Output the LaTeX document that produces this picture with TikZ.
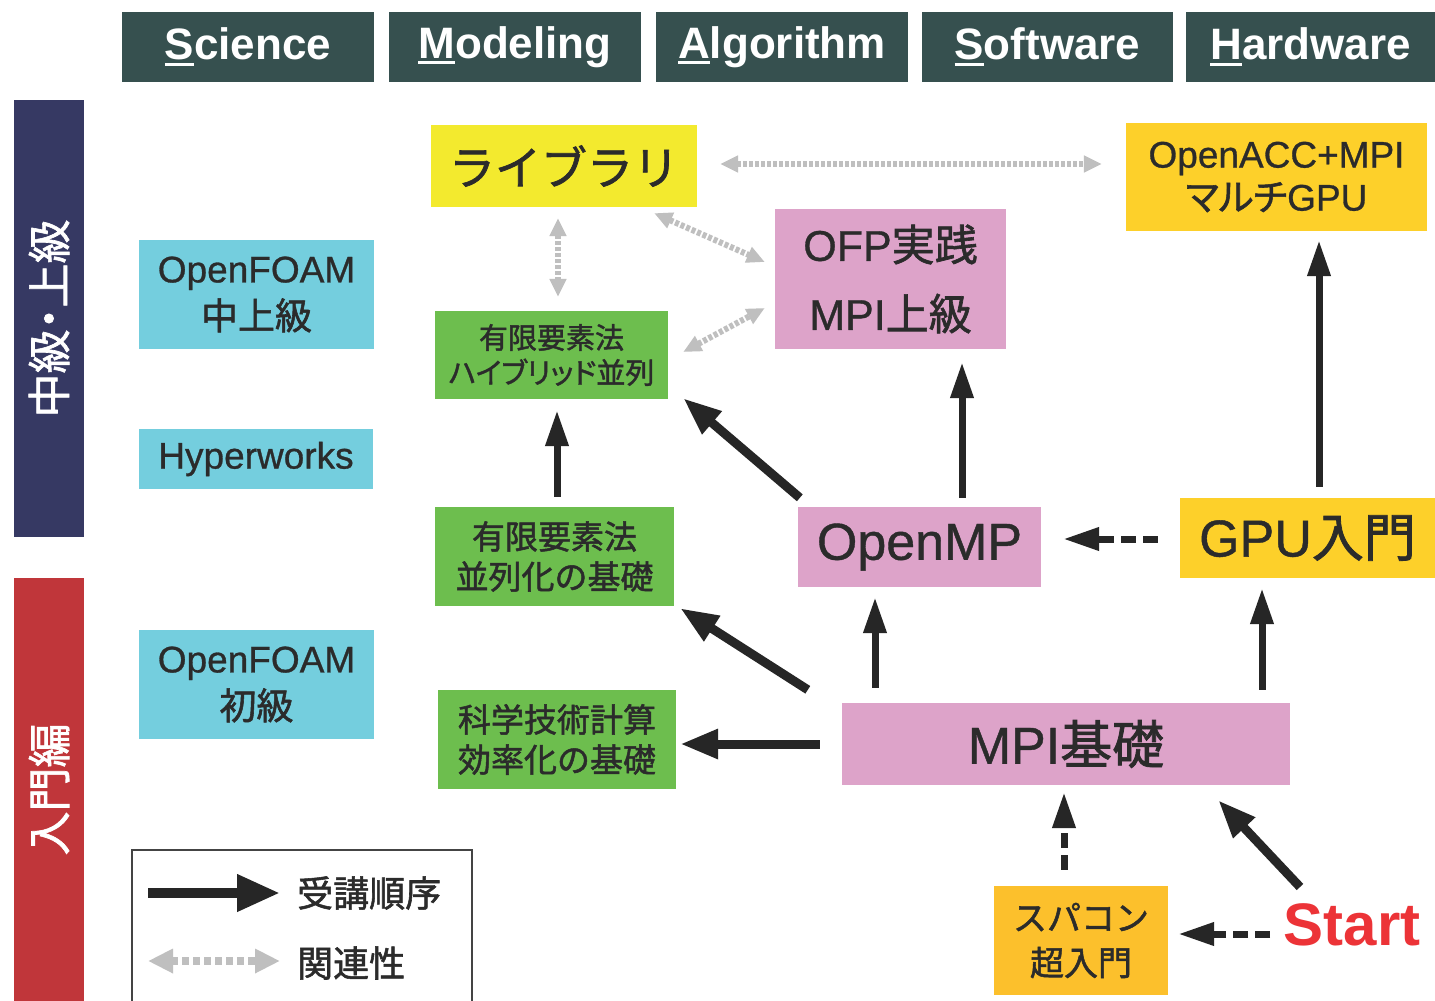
\documentclass[tikz,border=0pt]{standalone}
\usepackage{fontspec}
\setmainfont{Liberation Sans}[UprightFeatures={FakeBold=0.8}]
\newfontfamily\jp{Noto Sans CJK JP}[UprightFeatures={FakeBold=1.5}]
\newfontfamily\jpp{Noto Sans CJK JP}[UprightFeatures={FakeBold=1.5},RawFeature=+palt]
\usetikzlibrary{arrows.meta}
\definecolor{hdrc}{HTML}{36504F}
\definecolor{navyc}{HTML}{363963}
\definecolor{redbar}{HTML}{C0363A}
\definecolor{yelc}{HTML}{F3EA2E}
\definecolor{goldc}{HTML}{FDD02A}
\definecolor{orgc}{HTML}{FCC02C}
\definecolor{pinkc}{HTML}{DDA3C9}
\definecolor{cyanc}{HTML}{74CEDE}
\definecolor{grnc}{HTML}{6DBE4E}
\definecolor{txtc}{HTML}{2B2B2B}
\definecolor{arrc}{HTML}{262626}
\definecolor{startc}{HTML}{EC3337}
\definecolor{grayc}{HTML}{BFBFBF}
\definecolor{legc}{HTML}{444444}
\newcommand\firstul[1]{\setbox0\hbox{#1}\rlap{\rule[-6pt]{\wd0}{3pt}}\box0}
\newcommand\fs[2]{\fontsize{#1}{#2}\selectfont}
\begin{document}
\begin{tikzpicture}[x=1pt,y=-1pt,
  box/.style={rectangle, inner sep=0pt, align=center, text=txtc},
  hdr/.style={box, fill=hdrc, text=white, minimum height=70pt, font=\fs{44}{50}\bfseries},
  bar/.style={rectangle, inner sep=0pt, rotate=90, minimum height=70pt, text=white},
  blk/.style={line width=7pt, draw=arrc, -{Triangle[length=36pt,width=22pt]}},
  blkb/.style={line width=9pt, draw=arrc, -{Triangle[length=38pt,width=28pt]}},
  blkd/.style={blk, dash pattern=on 15pt off 7pt},
  rel/.style={line width=6pt, draw=grayc, dash pattern=on 4pt off 2pt,
    {Triangle[length=18pt,width=16pt]}-{Triangle[length=18pt,width=16pt]}}]
\useasboundingbox[fill=white] (0,0) rectangle (1435,1001);

% headers
\node[hdr, minimum width=252pt] (sci) at (248,47) {\firstul{S}cience};
\node[hdr, minimum width=252pt] (mod) at (515,47) {\firstul{M}odeling};
\node[hdr, minimum width=252pt] (alg) at (782,47) {\firstul{A}lgorithm};
\node[hdr, minimum width=251pt] (sw) at (1047.5,47) {\firstul{S}oftware};
\node[hdr, minimum width=249pt] (hw) at (1310.5,47) {\firstul{H}ardware};

% side bars
\node[bar, fill=navyc, minimum width=437pt, font=\jpp\fs{44}{44}] (bara) at (49,318.5) {中級・上級};
\node[bar, fill=redbar, minimum width=423pt, font=\jp\fs{44}{44}] (barb) at (49,789.5) {入門編};

% boxes
\node[box, fill=yelc, minimum width=266pt, minimum height=82pt, font=\jp\fs{46}{50}] (lib) at (564,166) {ライブラリ};
\node[box, fill=goldc, minimum width=301pt, minimum height=108pt, font=\fs{37}{43}] (acc) at (1276.5,177) {OpenACC+MPI\\{\jpp マルチ}GPU};
\node[box, fill=pinkc, minimum width=231pt, minimum height=140pt, font=\fs{43}{69}] (ofp) at (890.5,279) {OFP{\jp 実践}\\MPI{\jp 上級}};
\node[box, fill=cyanc, minimum width=235pt, minimum height=109pt, font=\fs{37}{47}] (of1) at (256.5,294.5) {OpenFOAM\\{\jp 中上級}};
\node[box, fill=cyanc, minimum width=234pt, minimum height=60pt, font=\fs{37}{40}] (hyp) at (256,459) {Hyperworks};
\node[box, fill=grnc, minimum width=233pt, minimum height=88pt, font=\jp\fs{29}{35}] (fem1) at (551.5,355) {有限要素法\\{\jpp ハイブリッド並列}};
\node[box, fill=grnc, minimum width=239pt, minimum height=99pt, font=\jp\fs{33}{40}] (fem2) at (554.5,556.5) {有限要素法\\並列化の基礎};
\node[box, fill=pinkc, minimum width=243pt, minimum height=80pt, font=\fs{52}{56}] (omp) at (919.5,547) {OpenMP};
\node[box, fill=goldc, minimum width=255pt, minimum height=80pt, font=\fs{52}{56}] (gpu) at (1307.5,538) {GPU{\jp 入門}};
\node[box, fill=cyanc, minimum width=235pt, minimum height=109pt, font=\fs{37}{47}] (of2) at (256.5,684.5) {OpenFOAM\\{\jp 初級}};
\node[box, fill=grnc, minimum width=238pt, minimum height=99pt, font=\jp\fs{33}{40}] (sci2) at (557,739.5) {科学技術計算\\効率化の基礎};
\node[box, fill=pinkc, minimum width=448pt, minimum height=82pt, font=\fs{52}{56}] (mpi) at (1066,744) {MPI{\jp 基礎}};
\node[box, fill=orgc, minimum width=174pt, minimum height=109pt, font=\jp\fs{34}{45}] (spa) at (1081,940.5) {スパコン\\超入門};
\node[inner sep=0pt, text=startc, font=\fs{60}{60}\bfseries] (start) at (1352,925) {Start};

% ordering arrows
\draw[blk] ([shift={(2.5,-10)}]fem2.north) -- ([shift={(5.5,11)}]fem1.south);
\draw[blkb] ([shift={(2,-9)}]omp.north west) -- ([shift={(15,-1)}]fem1.south east);
\draw[blk] ([shift={(42.5,-9)}]omp.north) -- ([shift={(71.5,13)}]ofp.south);
\draw[blk] ([shift={(11.5,-11)}]gpu.north) -- ([shift={(42.5,9)}]acc.south);
\draw[blkd] ([shift={(-22,1)}]gpu.west) -- ([shift={(22,-8)}]omp.east);
\draw[blkb] ([shift={(-34,-13)}]mpi.north west) -- ([shift={(6,2)}]fem2.south east);
\draw[blk] ([shift={(-191,-15)}]mpi.north) -- ([shift={(-44.5,10)}]omp.south);
\draw[blk] ([shift={(196,-13)}]mpi.north) -- ([shift={(-45.5,10)}]gpu.south);
\draw[blkb] ([shift={(-22,0)}]mpi.west) -- ([shift={(4,4.5)}]sci2.east);
\draw[blkd] ([shift={(-17,-16)}]spa.north) -- ([shift={(-2,7)}]mpi.south);
\draw[blkb] ([shift={(-52,-38)}]start.center) -- ([shift={(-72,15)}]mpi.south east);
\draw[blkd] ([shift={(-82,9)}]start.center) -- ([shift={(10,-6.5)}]spa.east);

% relation arrows
\draw[rel] ([shift={(23,-2)}]lib.east) -- ([shift={(-24,-13)}]acc.west);
\draw[rel] ([shift={(-6,11)}]lib.south) -- ([shift={(6.5,-14)}]fem1.north);
\draw[rel] ([shift={(-43,6)}]lib.south east) -- ([shift={(-10,-17)}]ofp.west);
\draw[rel] ([shift={(15,-3)}]fem1.east) -- ([shift={(-10,29)}]ofp.west);

% legend
\node[draw=legc, line width=1.5pt, rectangle, minimum width=340pt, minimum height=160pt, inner sep=0pt] (leg) at (302,930) {};
\coordinate (la1) at (148,893);
\coordinate (la2) at (280,893);
\coordinate (lb1) at (148,961);
\coordinate (lb2) at (280,961);
\draw[line width=10pt, draw=arrc, -{Triangle[length=43pt,width=35pt]}] (la1) -- (la2);
\draw[line width=8pt, draw=grayc, dash pattern=on 7pt off 4pt,
  {Triangle[length=25pt,width=23pt]}-{Triangle[length=25pt,width=23pt]}] (lb1) -- (lb2);
\node[anchor=west, inner sep=0pt, text=txtc, font=\jp\fs{36}{40}] (lt1) at (297,893) {受講順序};
\node[anchor=west, inner sep=0pt, text=txtc, font=\jp\fs{36}{40}] (lt2) at (297,963) {関連性};
\end{tikzpicture}
\end{document}
